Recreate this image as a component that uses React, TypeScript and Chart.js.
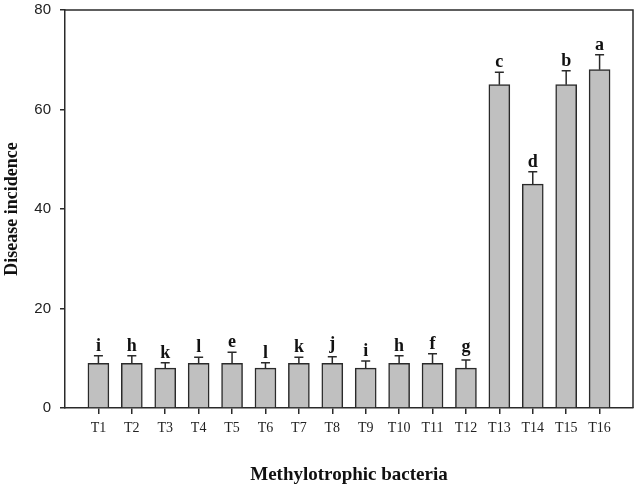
import React, { useEffect, useRef } from "react";
import { Chart, registerables } from "chart.js";

Chart.register(...registerables);

const categories = ["T1", "T2", "T3", "T4", "T5", "T6", "T7", "T8", "T9", "T10", "T11", "T12", "T13", "T14", "T15", "T16"];
const values = [9, 9, 8, 9, 9, 8, 9, 9, 8, 9, 9, 8, 65, 45, 65, 68];
const errors = [1.5, 1.5, 1.1, 1.2, 2.2, 1.1, 1.2, 1.3, 1.45, 1.5, 1.9, 1.65, 2.5, 2.5, 2.8, 3.0];
const letters = ["i", "h", "k", "l", "e", "l", "k", "j", "i", "h", "f", "g", "c", "d", "b", "a"];
const yTicks = [0, 20, 40, 60, 80];

const SERIF = "'Liberation Serif', 'Times New Roman', serif";
const SANS = "'Liberation Sans', Arial, sans-serif";
const INK = "#2a2a2a";

const errorBarPlugin = {
  id: "errorBars",
  afterDatasetsDraw(chart: any) {
    const ctx = chart.ctx;
    const meta = chart.getDatasetMeta(0);
    const yScale = chart.scales.y;
    ctx.save();
    ctx.strokeStyle = INK;
    ctx.lineWidth = 1.5;
    ctx.fillStyle = "#111";
    ctx.font = `bold 18px ${SERIF}`;
    ctx.textAlign = "center";
    ctx.textBaseline = "alphabetic";
    meta.data.forEach((el: any, i: number) => {
      const x = el.x;
      const yBar = el.y;
      const yTop = yScale.getPixelForValue(values[i] + errors[i]);
      ctx.beginPath();
      ctx.moveTo(x, yBar);
      ctx.lineTo(x, yTop);
      ctx.moveTo(x - 4.5, yTop);
      ctx.lineTo(x + 4.5, yTop);
      ctx.stroke();
      const l = letters[i];
      const lift = l === "g" || l === "j" ? 8 : 5;
      ctx.fillText(l, x, yTop - lift);
    });
    ctx.restore();
  },
};

const framePlugin = {
  id: "frame",
  afterDraw(chart: any) {
    const { left, top, right, bottom } = chart.chartArea;
    const ctx = chart.ctx;
    ctx.save();
    ctx.strokeStyle = INK;
    ctx.lineWidth = 1.5;
    ctx.beginPath();
    ctx.moveTo(left, top);
    ctx.lineTo(right, top);
    ctx.lineTo(right, bottom);
    ctx.stroke();
    ctx.restore();
  },
};

export default function App() {
  const ref = useRef<HTMLCanvasElement | null>(null);
  useEffect(() => {
    document.body.style.margin = "0";
    if (!ref.current) return;
    const chart = new Chart(ref.current, {
      type: "bar",
      data: {
        datasets: [
          {
            data: values.map((v, i) => ({ x: i + 1, y: v })),
            backgroundColor: "#c0c0c0",
            borderColor: INK,
            borderWidth: 1.5,
            barThickness: 21,
          } as any,
        ],
      },
      plugins: [errorBarPlugin, framePlugin],
      options: {
        animation: false,
        responsive: true,
        maintainAspectRatio: false,
        layout: { padding: { top: 10, right: 5, bottom: 0, left: 0 } },
        plugins: { legend: { display: false }, tooltip: { enabled: false } },
        scales: {
          x: {
            type: "linear",
            min: 0,
            max: 17,
            offset: false,
            afterBuildTicks: (scale: any) => {
              scale.ticks = categories.map((_, i) => ({ value: i + 1 }));
            },
            afterFit: (scale: any) => {
              scale.height = 83;
              scale.paddingLeft = 0;
              scale.paddingRight = 0;
            },
            grid: { offset: false, drawOnChartArea: false, drawTicks: true, tickLength: 6, color: INK, lineWidth: 1.5 },
            border: { color: INK, width: 1.5 },
            ticks: {
              autoSkip: false,
              maxRotation: 0,
              padding: 6,
              color: "#222",
              font: { family: SERIF, size: 14 },
              callback: (v: any) => categories[Number(v) - 1] ?? "",
            },
            title: {
              display: true,
              text: "Methylotrophic bacteria",
              color: "#111",
              font: { family: SERIF, size: 19, weight: "bold" },
              padding: { top: 0, bottom: 5 },
            },
          },
          y: {
            min: 0,
            max: 80,
            afterBuildTicks: (scale: any) => {
              scale.ticks = yTicks.map((v) => ({ value: v }));
            },
            afterFit: (scale: any) => {
              scale.width = 65;
              scale.paddingTop = 0;
              scale.paddingBottom = 0;
            },
            grid: { drawOnChartArea: false, drawTicks: true, tickLength: 5, color: INK, lineWidth: 1.5 },
            border: { color: INK, width: 1.5 },
            ticks: {
              padding: 9,
              color: "#222",
              font: { family: SANS, size: 15 },
            },
            title: {
              display: true,
              text: "Disease incidence",
              color: "#111",
              font: { family: SERIF, size: 18, weight: "bold" },
              padding: { top: 2, bottom: 0 },
            },
          },
        },
      } as any,
    });
    return () => chart.destroy();
  }, []);
  return (
    <div style={{ width: 638, height: 491, position: "relative", background: "#fff" }}>
      <canvas ref={ref} />
    </div>
  );
}
